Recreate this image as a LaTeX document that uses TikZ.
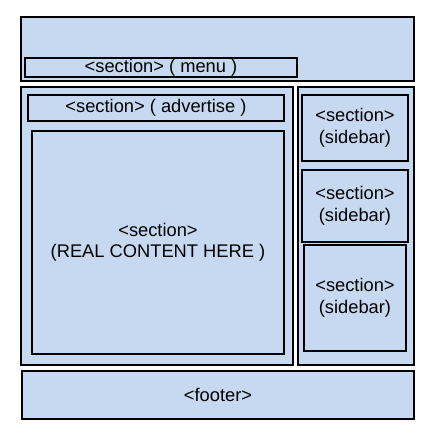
\documentclass[tikz,border=0pt]{standalone}
\usepackage{fontspec}
\setmainfont{Liberation Sans}
\definecolor{boxblue}{RGB}{198,217,240}
\tikzset{
  box/.style={draw=black, line width=1.5pt, fill=boxblue, rectangle, inner sep=0pt, outer sep=0pt,
    anchor=north west, align=center, font=\fontsize{18.3}{21.5}\selectfont},
}
\begin{document}
\begin{tikzpicture}[x=1pt, y=-1pt]
\useasboundingbox (0,0) rectangle (447,438);
\node[box, minimum width=393, minimum height=64] (header) at (21,17) {};
\node[box, minimum width=272, minimum height=19] (menu) at (25,58) {<section> ( menu )};
\node[box, minimum width=272, minimum height=278] (main) at (21,87) {};
\node[box, minimum width=256, minimum height=26] (advertise) at (28,95) {<section> ( advertise )};
\node[box, minimum width=252, minimum height=223] (content) at (32,131) {<section>\\(REAL CONTENT HERE )};
\node[box, minimum width=116, minimum height=278] (sidecol) at (298,87) {};
\node[box, minimum width=106, minimum height=66] (side1) at (302,95) {<section>\\(sidebar)};
\node[box, minimum width=106, minimum height=72] (side2) at (302,170) {<section>\\(sidebar)};
\node[box, minimum width=102, minimum height=106] (side3) at (304,245) {<section>\\(sidebar)};
\node[box, minimum width=392, minimum height=48] (footer) at (22,371) {<footer>};
\end{tikzpicture}
\end{document}
